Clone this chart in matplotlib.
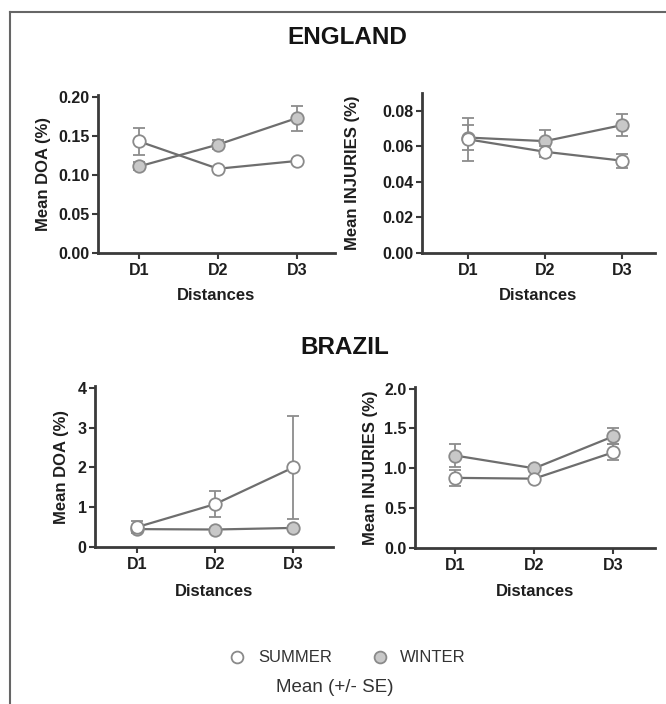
import matplotlib
matplotlib.use("Agg")
import matplotlib.pyplot as plt
from matplotlib.lines import Line2D

plt.rcParams['font.family'] = ['Liberation Sans', 'DejaVu Sans']

distances = ["D1", "D2", "D3"]

# England
eng_doa_summer = [0.143, 0.108, 0.118]
eng_doa_summer_se = [0.017, 0.002, 0.002]
eng_doa_winter = [0.111, 0.139, 0.173]
eng_doa_winter_se = [0.005, 0.006, 0.016]

eng_inj_summer = [0.064, 0.057, 0.052]
eng_inj_summer_se = [0.012, 0.003, 0.004]
eng_inj_winter = [0.065, 0.063, 0.072]
eng_inj_winter_se = [0.007, 0.006, 0.006]

# Brazil
bra_doa_summer = [0.50, 1.08, 2.00]
bra_doa_summer_se = [0.15, 0.33, 1.30]
bra_doa_winter = [0.45, 0.44, 0.48]
bra_doa_winter_se = [0.05, 0.03, 0.05]

bra_inj_summer = [0.88, 0.87, 1.20]
bra_inj_summer_se = [0.10, 0.02, 0.10]
bra_inj_winter = [1.16, 1.00, 1.40]
bra_inj_winter_se = [0.14, 0.03, 0.10]

W, H = 666, 704
fig = plt.figure(figsize=(W / 100, H / 100), dpi=100)

def box(l, r, t, b):
    return [l / W, 1 - b / H, (r - l) / W, (b - t) / H]

LINE = '#6e6e6e'
EDGE = '#8a8a8a'
WFILL = '#c8c8c8'
SPINE = '#3a3a3a'
TXT = '#1e1e1e'

def panel(rect, summer, s_se, winter, w_se, ylim, yticks, yfmt, ylabel, xlim,
          ylab_x, xlab_y):
    ax = fig.add_axes(rect)
    x = list(range(len(distances)))
    ax.errorbar(x, winter, yerr=w_se, color=LINE, ecolor='#8c8c8c', lw=1.6,
                elinewidth=1.3, capsize=4, capthick=1.3, marker='o', ms=9,
                mfc=WFILL, mec=EDGE, mew=1.3, zorder=3)
    ax.errorbar(x, summer, yerr=s_se, color=LINE, ecolor='#8c8c8c', lw=1.6,
                elinewidth=1.3, capsize=4, capthick=1.3, marker='o', ms=9,
                mfc='white', mec=EDGE, mew=1.3, zorder=4)
    ax.set_xlim(*xlim)
    ax.set_ylim(*ylim)
    ax.set_xticks(x)
    ax.set_xticklabels(distances)
    ax.set_yticks(yticks)
    ax.set_yticklabels([yfmt.format(v) for v in yticks])
    for s in ['top', 'right']:
        ax.spines[s].set_visible(False)
    for s in ['left', 'bottom']:
        ax.spines[s].set_linewidth(2)
        ax.spines[s].set_color(SPINE)
    ax.tick_params(axis='both', length=4, width=1.5, color=SPINE,
                   labelsize=11.5, labelcolor=TXT, pad=2)
    ax.tick_params(axis='x', pad=3, labelsize=11.5)
    for lab in ax.get_xticklabels() + ax.get_yticklabels():
        lab.set_fontweight('bold')
    ax.set_xlabel('Distances', fontsize=12, fontweight='bold', color=TXT)
    ax.set_ylabel(ylabel, fontsize=12, fontweight='bold', color=TXT)
    # place axis labels at pixel positions of the reference
    bb = ax.get_position()
    ax.yaxis.set_label_coords((ylab_x / W - bb.x0) / bb.width, 0.5)
    ax.xaxis.set_label_coords(0.5, ((1 - xlab_y / H) - bb.y0) / bb.height)
    ax.xaxis.label.set_va('center')
    ax.yaxis.label.set_va('center')
    return ax

panel(box(98, 335, 95, 253), eng_doa_summer, eng_doa_summer_se,
      eng_doa_winter, eng_doa_winter_se, (0, 0.2025),
      [0.0, 0.05, 0.10, 0.15, 0.20], '{:.2f}', 'Mean DOA (%)', (-0.52, 2.48),
      44, 296)
panel(box(422, 655, 93, 253), eng_inj_summer, eng_inj_summer_se,
      eng_inj_winter, eng_inj_winter_se, (0, 0.0901),
      [0.0, 0.02, 0.04, 0.06, 0.08], '{:.2f}', 'Mean INJURIES (%)', (-0.6, 2.43),
      353, 296)
panel(box(95, 333, 386, 547), bra_doa_summer, bra_doa_summer_se,
      bra_doa_winter, bra_doa_winter_se, (0, 4.05),
      [0, 1, 2, 3, 4], '{:d}', 'Mean DOA (%)', (-0.54, 2.51),
      62, 591)
panel(box(415, 655, 387, 548), bra_inj_summer, bra_inj_summer_se,
      bra_inj_winter, bra_inj_winter_se, (0, 2.02),
      [0.0, 0.5, 1.0, 1.5, 2.0], '{:.1f}', 'Mean INJURIES (%)', (-0.51, 2.53),
      370, 592)

fig.text(347 / W, 1 - 37 / H, 'ENGLAND', ha='center', va='center',
         fontsize=17.5, fontweight='bold', color='#141414')
fig.text(345 / W, 1 - 347 / H, 'BRAZIL', ha='center', va='center',
         fontsize=17.5, fontweight='bold', color='#141414')

# Legend
fig.add_artist(Line2D([237 / W], [1 - 657 / H], marker='o', ms=8.5, mfc='white',
                      mec=EDGE, mew=1.3, ls='none'))
fig.text(258 / W, 1 - 657 / H, 'SUMMER', ha='left', va='center', fontsize=12,
         color='#333333')
fig.add_artist(Line2D([380 / W], [1 - 657 / H], marker='o', ms=8.5, mfc=WFILL,
                      mec=EDGE, mew=1.3, ls='none'))
fig.text(400 / W, 1 - 657 / H, 'WINTER', ha='left', va='center', fontsize=12,
         color='#333333')
fig.text(335 / W, 1 - 688 / H, 'Mean (+/- SE)', ha='center', va='center',
         fontsize=13.5, color='#333333')

# Frame lines (top and left)
fig.add_artist(Line2D([10 / W, 1.0], [1 - 12 / H, 1 - 12 / H], color='#666666', lw=1.5))
fig.add_artist(Line2D([10 / W, 10 / W], [0.0, 1 - 12 / H], color='#666666', lw=1.5))

fig.savefig('out.png', dpi=100)
